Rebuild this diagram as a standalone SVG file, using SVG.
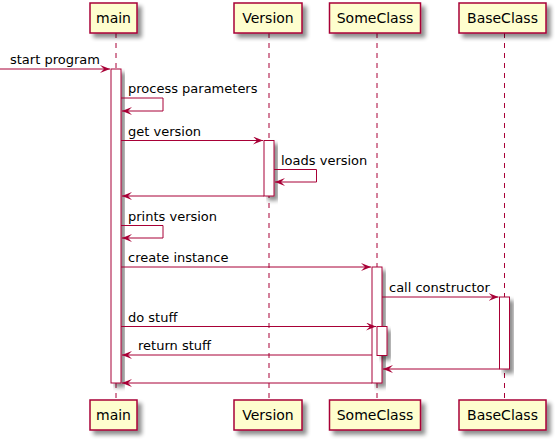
<svg xmlns="http://www.w3.org/2000/svg" width="556" height="441" viewBox="0 0 556 441">
<defs>
<filter id="sh" x="-20%" y="-20%" width="160%" height="160%">
<feGaussianBlur in="SourceAlpha" stdDeviation="2" result="b"/>
<feOffset in="b" dx="4" dy="4" result="o"/>
<feComponentTransfer in="o" result="c"><feFuncA type="linear" slope="0.45"/></feComponentTransfer>
<feMerge><feMergeNode in="c"/><feMergeNode in="SourceGraphic"/></feMerge>
</filter>
<marker id="ah" markerWidth="10" markerHeight="8" refX="10" refY="4" orient="auto" markerUnits="userSpaceOnUse">
<path d="M0,0 L10,4 L0,8 L4,4 Z" fill="#A80036"/>
</marker>
<style>
.box{fill:#FEFECE;stroke:#A80036;stroke-width:1.5;filter:url(#sh)}
.act{fill:#FFFFFF;stroke:#A80036;stroke-width:1;filter:url(#sh)}
.life{stroke:#A80036;stroke-width:1;stroke-dasharray:5,5;fill:none}
.msg{stroke:#A80036;stroke-width:1;fill:none;marker-end:url(#ah)}
.pt{font-family:"DejaVu Sans",sans-serif;font-size:14px;fill:#000;text-anchor:middle}
.mt{font-family:"DejaVu Sans",sans-serif;font-size:13px;fill:#000}
</style>
</defs>
<g id="lifelines">
<line class="life" x1="116" y1="33" x2="116" y2="400"/>
<line class="life" x1="269" y1="33" x2="269" y2="400"/>
<line class="life" x1="377" y1="33" x2="377" y2="400"/>
<line class="life" x1="504.5" y1="33" x2="504.5" y2="400"/>
</g>
<g id="main">
<rect class="box" x="90" y="3" width="47" height="30"/>
<text class="pt" x="113.5" y="23">main</text>
<rect class="box" x="90" y="400" width="47" height="30"/>
<text class="pt" x="113.5" y="420">main</text>
<rect class="act" x="111" y="69" width="10" height="314"/>
</g>
<g id="Version">
<rect class="box" x="234" y="3" width="68" height="30"/>
<text class="pt" x="268" y="23">Version</text>
<rect class="box" x="234" y="400" width="68" height="30"/>
<text class="pt" x="268" y="420">Version</text>
<rect class="act" x="264" y="140.5" width="10" height="55.5"/>
</g>
<g id="SomeClass">
<rect class="box" x="329.5" y="3" width="91" height="30"/>
<text class="pt" x="375" y="23">SomeClass</text>
<rect class="box" x="329.5" y="400" width="91" height="30"/>
<text class="pt" x="375" y="420">SomeClass</text>
<rect class="act" x="372" y="267" width="10" height="116"/>
<rect class="act" x="377" y="326.5" width="10" height="29"/>
</g>
<g id="BaseClass">
<rect class="box" x="459" y="3" width="87" height="30"/>
<text class="pt" x="502.5" y="23">BaseClass</text>
<rect class="box" x="459" y="400" width="87" height="30"/>
<text class="pt" x="502.5" y="420">BaseClass</text>
<rect class="act" x="499.5" y="297" width="10" height="72"/>
</g>
<g id="connectors">
<line class="msg" x1="0" y1="69" x2="110" y2="69"/>
<text class="mt" x="10" y="64">start program</text>
<polyline class="msg" points="121,98 163,98 163,111 122,111"/>
<text class="mt" x="128" y="93">process parameters</text>
<line class="msg" x1="121" y1="140.5" x2="263" y2="140.5"/>
<text class="mt" x="128" y="135.5">get version</text>
<polyline class="msg" points="274,169.5 316.5,169.5 316.5,182 275,182"/>
<text class="mt" x="281" y="164.5">loads version</text>
<line class="msg" x1="264" y1="196" x2="122" y2="196"/>
<polyline class="msg" points="121,225.5 163,225.5 163,238 122,238"/>
<text class="mt" x="128" y="220.5">prints version</text>
<line class="msg" x1="121" y1="267" x2="371" y2="267"/>
<text class="mt" x="128" y="262">create instance</text>
<line class="msg" x1="382" y1="297" x2="498.5" y2="297"/>
<text class="mt" x="389" y="292">call constructor</text>
<line class="msg" x1="121" y1="326.5" x2="376" y2="326.5"/>
<text class="mt" x="128" y="321.5">do stuff</text>
<line class="msg" x1="372" y1="355" x2="122" y2="355"/>
<text class="mt" x="138" y="350">return stuff</text>
<line class="msg" x1="499.5" y1="369" x2="383" y2="369"/>
<line class="msg" x1="372" y1="383" x2="122" y2="383"/>
</g>
</svg>
